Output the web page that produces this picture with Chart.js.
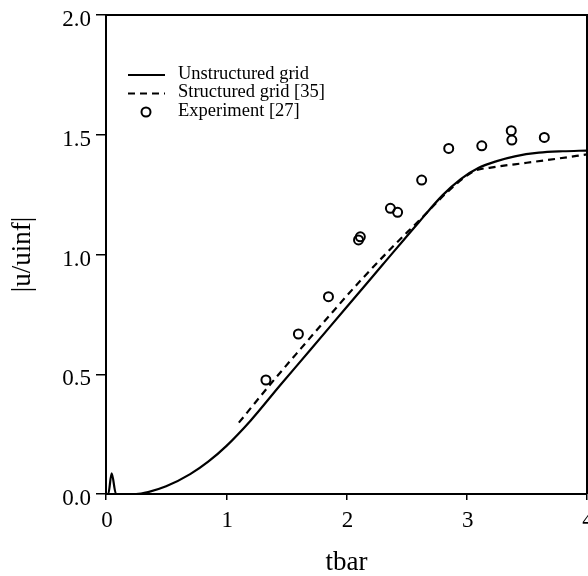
<!DOCTYPE html>
<html>
<head>
<meta charset="utf-8">
<script src="https://cdn.jsdelivr.net/npm/chart.js@4.4.1/dist/chart.umd.min.js"></script>
<style>
  html, body { margin: 0; padding: 0; background: #fff; }
  #wrap { width: 588px; height: 576px; }
</style>
</head>
<body>
<div id="wrap"><canvas id="chart" width="588" height="576"></canvas></div>
<script>
// Unstructured grid (solid line)
var unstructX = [0, 0.019, 0.047, 0.083, 0.25, 0.35, 0.5, 0.7, 0.85, 1.0, 1.2, 1.45, 1.7, 2.0, 2.3, 2.6, 2.8, 2.95, 3.1, 3.25, 3.4, 3.6, 3.8, 4.0];
var unstructY = [0, 0, 0.086, 0, 0, 0.008, 0.032, 0.083, 0.135, 0.2, 0.305, 0.455, 0.602, 0.78, 0.957, 1.134, 1.248, 1.315, 1.362, 1.39, 1.41, 1.425, 1.431, 1.434];

// Structured grid [35] (dashed line)
var structX = [1.105, 1.37, 1.62, 1.87, 2.12, 2.37, 2.62, 2.82, 2.97, 3.07, 3.2, 3.5, 3.75, 4.0];
var structY = [0.298, 0.46, 0.607, 0.752, 0.893, 1.025, 1.15, 1.252, 1.318, 1.35, 1.363, 1.383, 1.4, 1.418];

// Experiment [27] (circles)
var expX = [1.33, 1.60, 1.85, 2.10, 2.115, 2.365, 2.425, 2.625, 2.85, 3.125, 3.37, 3.375, 3.645];
var expY = [0.476, 0.668, 0.824, 1.061, 1.074, 1.193, 1.176, 1.311, 1.443, 1.454, 1.517, 1.478, 1.489];

var seriesLabels = ["Unstructured grid", "Structured grid [35]", "Experiment [27]"];
var xTicks = [0, 1, 2, 3, 4];
var yTicks = [0, 0.5, 1.0, 1.5, 2.0];

var serif = "'Liberation Serif', 'Times New Roman', serif";

function toPoints(xs, ys) {
  return xs.map(function (x, i) { return { x: x, y: ys[i] }; });
}

// box around the plot (top and right edges)
var frameBox = {
  id: 'frameBox',
  afterDraw: function (chart) {
    var a = chart.chartArea, ctx = chart.ctx;
    ctx.save();
    ctx.strokeStyle = '#000';
    ctx.lineWidth = 2;
    ctx.beginPath();
    ctx.moveTo(a.left, a.top);
    ctx.lineTo(a.right, a.top);
    ctx.lineTo(a.right, a.bottom);
    ctx.stroke();
    ctx.restore();
  }
};

// legend drawn inside the plot, top left
var legendInside = {
  id: 'legendInside',
  afterDraw: function (chart, args, opts) {
    var ctx = chart.ctx;
    var x0 = opts.x, x1 = opts.x + opts.sampleWidth;
    ctx.save();
    ctx.font = opts.fontSize + 'px ' + serif;
    ctx.fillStyle = '#000';
    ctx.strokeStyle = '#000';
    chart.data.datasets.forEach(function (ds, i) {
      var cy = opts.y + i * opts.rowHeight;
      if (ds.showLine) {
        ctx.lineWidth = 2;
        ctx.setLineDash(ds.borderDash || []);
        ctx.beginPath();
        ctx.moveTo(x0, cy);
        ctx.lineTo(x1, cy);
        ctx.stroke();
        ctx.setLineDash([]);
      } else {
        ctx.lineWidth = ds.borderWidth;
        ctx.beginPath();
        ctx.arc(x0 + 18, cy, ds.pointRadius, 0, Math.PI * 2);
        ctx.stroke();
      }
      ctx.textBaseline = 'alphabetic';
      ctx.fillText(ds.label, opts.textX, cy + opts.baselineShift);
    });
    ctx.restore();
  }
};

var ctx = document.getElementById('chart');

var chart = new Chart(ctx, {
  type: 'scatter',
  data: {
    datasets: [{
      label: seriesLabels[0],
      data: toPoints(unstructX, unstructY),
      showLine: true,
      borderColor: '#000',
      borderWidth: 2.2,
      pointRadius: 0,
      cubicInterpolationMode: 'monotone'
    }, {
      label: seriesLabels[1],
      data: toPoints(structX, structY),
      showLine: true,
      borderColor: '#000',
      borderWidth: 2.2,
      borderDash: [7, 5],
      pointRadius: 0,
      cubicInterpolationMode: 'monotone'
    }, {
      label: seriesLabels[2],
      data: toPoints(expX, expY),
      showLine: false,
      borderColor: '#000',
      backgroundColor: 'rgba(0,0,0,0)',
      borderWidth: 2,
      pointRadius: 4.5,
      pointStyle: 'circle'
    }]
  },
  options: {
    responsive: false,
    animation: false,
    devicePixelRatio: 1,
    layout: { autoPadding: false, padding: { top: 15, right: 1, bottom: 0, left: 0 } },
    plugins: {
      legend: { display: false },
      tooltip: { enabled: false },
      legendInside: {
        x: 128, y: 75, sampleWidth: 37, rowHeight: 18.5,
        textX: 178, baselineShift: 3.5, fontSize: 18.5
      }
    },
    scales: {
      x: {
        type: 'linear',
        min: 0,
        max: 4,
        afterBuildTicks: function (scale) {
          scale.ticks = xTicks.map(function (v) { return { value: v }; });
        },
        afterFit: function (scale) {
          scale.height = 82;
          scale.paddingLeft = 0;
          scale.paddingRight = 0;
        },
        grid: { drawOnChartArea: false, drawTicks: true, tickLength: 6, color: '#000', lineWidth: 1.5 },
        border: { display: true, color: '#000', width: 2 },
        ticks: {
          color: '#000',
          padding: 7,
          labelOffset: 1,
          maxRotation: 0,
          font: { family: serif, size: 23 },
          callback: function (v) { return String(v); }
        },
        title: {
          display: true,
          text: 'tbar',
          color: '#000',
          padding: { top: 0, bottom: 0 },
          font: { family: serif, size: 27, lineHeight: 1 }
        }
      },
      y: {
        type: 'linear',
        min: 0,
        max: 2,
        afterBuildTicks: function (scale) {
          scale.ticks = yTicks.map(function (v) { return { value: v }; });
        },
        afterFit: function (scale) {
          scale.width = 106;
          scale.paddingTop = 0;
          scale.paddingBottom = 0;
        },
        grid: { drawOnChartArea: false, drawTicks: true, tickLength: 10, color: '#000', lineWidth: 1.5 },
        border: { display: true, color: '#000', width: 2 },
        ticks: {
          color: '#000',
          padding: 5,
          labelOffset: 5,
          font: { family: serif, size: 23 },
          callback: function (v) { return Number(v).toFixed(1); }
        },
        title: {
          display: true,
          text: '|u/uinf|',
          color: '#000',
          padding: { top: 9, bottom: 0 },
          font: { family: serif, size: 27, lineHeight: 1 }
        }
      }
    }
  },
  plugins: [frameBox, legendInside]
});
</script>
</body>
</html>
